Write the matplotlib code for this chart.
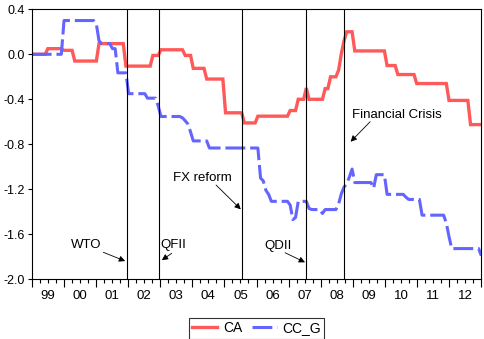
import numpy as np
import matplotlib
matplotlib.use('Agg')
import matplotlib.pyplot as plt
from matplotlib.ticker import FixedLocator, NullFormatter, FixedFormatter

plt.rcParams['font.family'] = ['Liberation Sans', 'DejaVu Sans']

# Monthly series 1999M01-2012M12, stored as (level, number of months)
ca_levels = [0.0, 0.05, 0.035, -0.06, 0.095, -0.105, -0.01, 0.04, -0.01, -0.125,
             -0.22, -0.52, -0.61, -0.55, -0.50, -0.40, -0.30, -0.40, -0.305, -0.20,
             -0.14, 0.005, 0.12, 0.20, 0.03, -0.10, -0.18, -0.26, -0.41, -0.625]
ca_months = [6, 6, 4, 9, 10, 10, 3, 9, 3, 5,
             7, 7, 5, 12, 3, 3, 1, 6, 2, 3,
             1, 1, 1, 3, 12, 4, 7, 12, 8, 5]

ccg_levels = [0.0, 0.30, 0.27, 0.12, 0.095, 0.05, -0.165, -0.35, -0.39, -0.46,
              -0.553, -0.565, -0.59, -0.62, -0.69, -0.77, -0.833, -1.10, -1.125, -1.21,
              -1.245, -1.307, -1.34, -1.47, -1.45, -1.307, -1.37, -1.38, -1.415, -1.38,
              -1.33, -1.24, -1.18, -1.15, -1.09, -1.02, -1.14, -1.19, -1.07, -1.245,
              -1.27, -1.29, -1.43, -1.50, -1.62, -1.727, -1.79]
ccg_months = [12, 12, 1, 1, 4, 2, 4, 7, 4, 1,
              8, 1, 1, 1, 1, 6, 19, 1, 1, 1,
              1, 7, 1, 1, 1, 4, 1, 4, 1, 5,
              1, 1, 1, 1, 1, 1, 7, 1, 4, 7,
              1, 5, 9, 1, 1, 11, 1]

years = ['99', '00', '01', '02', '03', '04', '05', '06', '07', '08', '09', '10', '11', '12']

# policy events: (label, date of the vertical line, text position, arrow tail, arrow head)
events = [
    ('WTO', 2001.98, (2000.69, -1.695), (2001.23, -1.76), (2001.91, -1.838)),
    ('QFII', 2002.97, (2003.40, -1.695), (2003.36, -1.769), (2003.05, -1.83)),
    ('FX reform', 2005.56, (2004.32, -1.10), (2004.74, -1.162), (2005.51, -1.378)),
    ('QDII', 2007.55, (2006.67, -1.704), (2006.89, -1.764), (2007.51, -1.849)),
    ('Financial Crisis', 2008.73, (2010.37, -0.54), (2009.54, -0.599), (2008.93, -0.777)),
]

ca = np.repeat(ca_levels, ca_months)
ccg = np.repeat(ccg_levels, ccg_months)
t = 1999 + np.arange(len(ca)) * 14 / (len(ca) - 1)

fig = plt.figure(figsize=(4.85, 3.39), dpi=100)
ax = fig.add_axes([0.0654, 0.1761, 0.927, 0.7965])

ax.plot(t, ca, color='#FF5A5A', lw=2.4, label='CA', solid_joinstyle='miter')
ax.plot(t, ccg, color='#6464FF', lw=2.2, dashes=(6.5, 1.6), label='CC_G')

for name, x0, txt, tail, head in events:
    ax.axvline(x0, color='black', lw=0.8)
    ax.text(txt[0], txt[1], name, fontsize=9.5, ha='center', va='center')
    ax.annotate('', xy=head, xytext=tail,
                arrowprops=dict(arrowstyle='-|>', color='black', lw=0.6,
                                mutation_scale=9, shrinkA=0, shrinkB=0))

ax.set_xlim(1999, 2013)
ax.set_ylim(-2.0, 0.4)

ax.set_yticks([0.4, 0.0, -0.4, -0.8, -1.2, -1.6, -2.0])
ax.set_yticklabels(['0.4', '0.0', '-0.4', '-0.8', '-1.2', '-1.6', '-2.0'])

# year boundaries as major ticks, quarters as minor ticks with labels mid-year
ax.xaxis.set_major_locator(FixedLocator(np.arange(1999, 2014)))
ax.xaxis.set_major_formatter(NullFormatter())
quarters = [y + q for y in range(1999, 2013) for q in (0.25, 0.5, 0.75)]
qlabels = [years[int(q) - 1999] if abs(q % 1 - 0.5) < 1e-6 else '' for q in quarters]
ax.xaxis.set_minor_locator(FixedLocator(quarters))
ax.xaxis.set_minor_formatter(FixedFormatter(qlabels))

ax.tick_params(axis='x', which='major', direction='out', length=6, width=0.8)
ax.tick_params(axis='x', which='minor', direction='out', length=3, width=0.8,
               labelsize=9.5, pad=5)
ax.tick_params(axis='y', direction='out', length=3, width=0.8, labelsize=9, pad=2)
for s in ax.spines.values():
    s.set_linewidth(0.8)

leg = fig.legend(loc='center', bbox_to_anchor=(0.529, 0.0316), ncol=2, fontsize=10,
                 frameon=True, fancybox=False, edgecolor='black', handlelength=1.8,
                 handletextpad=0.4, columnspacing=0.7, borderpad=0.25)
leg.get_frame().set_linewidth(0.8)

fig.savefig('out.png', dpi=100)
